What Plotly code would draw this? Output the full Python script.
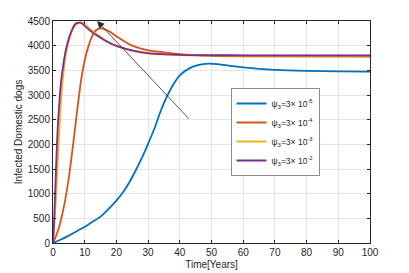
import plotly.graph_objects as go

# ---- data ----
t_blue = [0, 2, 5, 8, 10, 12, 15, 18, 20, 22, 24, 26, 28, 30, 32, 34, 36, 38, 40, 43, 46, 49, 52, 56, 60, 65, 70, 80, 90, 100]
y_blue = [0, 55, 150, 260, 325, 410, 535, 720, 860, 1020, 1220, 1460, 1720, 2010, 2320, 2680, 2980, 3220, 3400, 3540, 3610, 3635, 3625, 3590, 3560, 3530, 3510, 3490, 3480, 3475]

t_orange = [0, 1, 2, 3, 4, 5, 6, 7, 8, 9, 10, 11, 12, 13, 14, 15, 16, 18, 20, 25, 30, 35, 40, 50, 60, 100]
y_orange = [0, 150, 340, 600, 930, 1330, 1815, 2350, 2880, 3360, 3700, 3950, 4140, 4270, 4330, 4350, 4340, 4280, 4190, 4000, 3905, 3865, 3830, 3795, 3785, 3780]

t_yellow = [0, 0.5, 1, 1.5, 2, 2.5, 3, 3.5, 4, 5, 6, 7, 8, 9, 10, 12, 14, 16, 18, 20, 25, 30, 40, 100]
y_yellow = [0, 450, 1000, 1650, 2300, 2850, 3250, 3550, 3800, 4100, 4300, 4410, 4460, 4470, 4440, 4320, 4220, 4130, 4060, 4000, 3895, 3840, 3810, 3800]

t_purple = [0, 0.25, 0.5, 0.75, 1, 1.25, 1.5, 2, 2.5, 3, 3.5, 4, 5, 6, 7, 8, 9, 10, 12, 14, 16, 18, 20, 22, 25, 30, 40, 60, 100]
y_purple = [0, 300, 700, 1150, 1600, 2000, 2350, 2850, 3250, 3500, 3720, 3900, 4150, 4320, 4440, 4465, 4455, 4400, 4290, 4200, 4120, 4050, 3995, 3955, 3905, 3850, 3815, 3805, 3805]

names = ["ψ<sub>3</sub>=3× 10<sup>-5</sup>", "ψ<sub>3</sub>=3× 10<sup>-4</sup>",
         "ψ<sub>3</sub>=3× 10<sup>-3</sup>", "ψ<sub>3</sub>=3× 10<sup>-2</sup>"]
colors = ["#0072BD", "#D95319", "#EDB120", "#7E2F8E"]

x_ticks = [0, 10, 20, 30, 40, 50, 60, 70, 80, 90, 100]
y_ticks = [0, 500, 1000, 1500, 2000, 2500, 3000, 3500, 4000, 4500]

arrow_tail = [43.3, 2490]
arrow_head = [13.9, 4500]

FONT = "Liberation Sans, Arial"
fig = go.Figure()
for tt, yy, nm, c in zip([t_blue, t_orange, t_yellow, t_purple],
                         [y_blue, y_orange, y_yellow, y_purple], names, colors):
    fig.add_trace(go.Scatter(x=tt, y=yy, mode="lines", name=nm,
                             line=dict(color=c, width=1.8, shape="spline", smoothing=0.8)))

fig.add_annotation(x=arrow_head[0], y=arrow_head[1], ax=arrow_tail[0], ay=arrow_tail[1],
                   xref="x", yref="y", axref="x", ayref="y", text="", showarrow=True,
                   arrowhead=2, arrowsize=1.8, arrowwidth=0.8, arrowcolor="#2a2a2a")

axis_common = dict(showgrid=True, gridcolor="#e5e5e5", gridwidth=1, showline=True,
                   linecolor="#262626", linewidth=1, mirror="allticks", ticks="inside",
                   ticklen=3, tickcolor="#262626", zeroline=False, automargin=False,
                   tickfont=dict(family=FONT, size=10, color="#262626"))

fig.update_xaxes(range=[0, 100], tickvals=x_ticks, title=dict(text="Time[Years]", standoff=3,
                 font=dict(family=FONT, size=10, color="#262626")), **axis_common)
fig.update_yaxes(range=[0, 4500], tickvals=y_ticks, title=dict(text="Infected Domestic dogs", standoff=3,
                 font=dict(family=FONT, size=10, color="#262626")), **axis_common)

fig.update_layout(
    width=409, height=273,
    margin=dict(l=53, r=39, t=21, b=30),
    paper_bgcolor="white", plot_bgcolor="white",
    showlegend=True,
    legend=dict(x=0.56, y=0.50, xanchor="left", yanchor="middle",
                bgcolor="white", bordercolor="#8c8c8c", borderwidth=1,
                font=dict(family=FONT, size=8.5, color="#262626"),
                itemwidth=30, tracegroupgap=0),
)

fig.write_html("out.html", config={"displayModeBar": False},
               post_script="document.body.style.margin='0';document.body.style.overflow='hidden';")
